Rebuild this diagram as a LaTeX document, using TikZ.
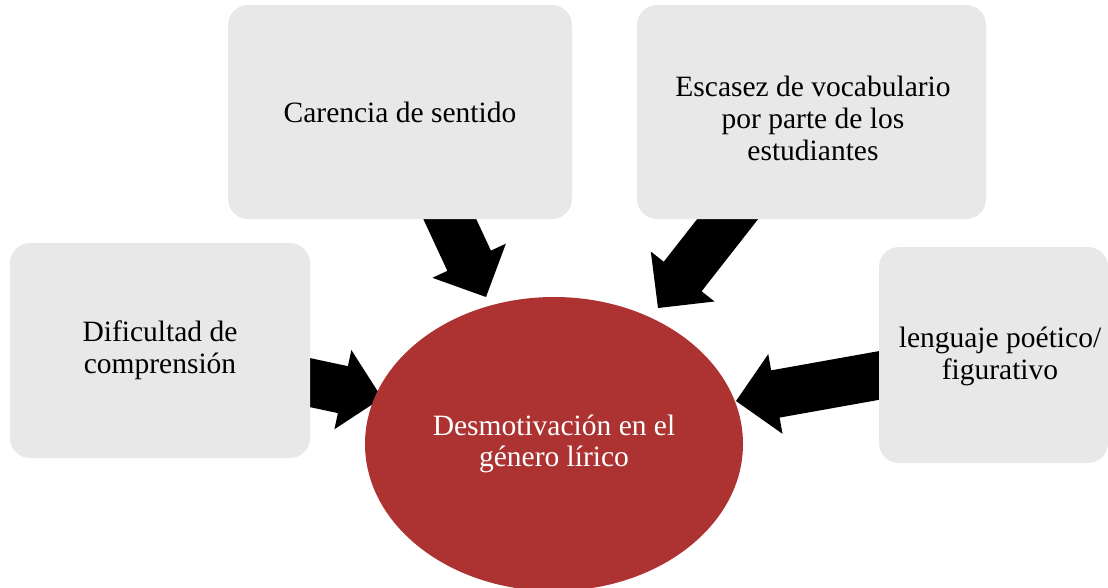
\documentclass[tikz,border=0pt]{standalone}
\usepackage{fontspec}
\setmainfont{Liberation Serif}
\usetikzlibrary{shapes.geometric,calc}
\definecolor{boxgray}{HTML}{E8E8E8}
\definecolor{ellred}{HTML}{AD3333}
\pgfdeclarelayer{bg}
\pgfsetlayers{bg,main}
% block arrow from the centre of node #1 to the tip coordinate #2
\newcommand\blockarrow[2]{%
  \coordinate (hb) at ($(#2)!40pt!(#1)$);
  \fill[blockfill] ($(#1)!24pt!90:(#2)$) -- ($(hb)!24pt!90:(#2)$)
    -- ($(hb)!40.5pt!90:(#2)$) -- (#2) -- ($(hb)!40.5pt!-90:(#2)$)
    -- ($(hb)!24pt!-90:(#2)$) -- ($(#1)!24pt!-90:(#2)$) -- cycle;}
\begin{document}
\begin{tikzpicture}[x=1pt,y=-1pt,
  causebox/.style={draw=none, fill=boxgray, rounded corners=20pt, align=center,
    font=\fontsize{29.5}{32}\selectfont, inner sep=0pt},
  boxtext/.style={align=center, font=\fontsize{29.5}{32}\selectfont, inner sep=0pt},
  effect/.style={ellipse, draw=none, fill=ellred, text=white, align=center,
    font=\fontsize{29.5}{31}\selectfont, inner sep=0pt,
    minimum width=378pt, minimum height=294pt},
  blockfill/.style={fill=black}]
\useasboundingbox (0,0) rectangle (1108,587);
\node[causebox, minimum width=300pt, minimum height=215pt] (b1) at (160,350.5)
  {Dificultad de\\comprensión};
\node[causebox, minimum width=344pt, minimum height=214pt] (b2) at (400,112)
  {Carencia de sentido};
\node[causebox, minimum width=349pt, minimum height=214pt] (b3) at (811.5,112) {};
\node[boxtext] (b3t) at (813,118)
  {Escasez de vocabulario\\por parte de los\\estudiantes};
\node[causebox, minimum width=229pt, minimum height=216pt] (b4) at (993.5,355) {};
\node[boxtext] (b4t) at (1000,356) {lenguaje poético/\\figurativo};
\node[effect] (e) at (554,444) {Desmotivación en el\\género lírico};
\coordinate (t1) at (382,398);
\coordinate (t2) at (486,297);
\coordinate (t3) at (658,308);
\coordinate (t4) at (736,401);
\begin{pgfonlayer}{bg}
\blockarrow{b1}{t1}
\blockarrow{b2}{t2}
\blockarrow{b3}{t3}
\blockarrow{b4}{t4}
\end{pgfonlayer}
\end{tikzpicture}
\end{document}
